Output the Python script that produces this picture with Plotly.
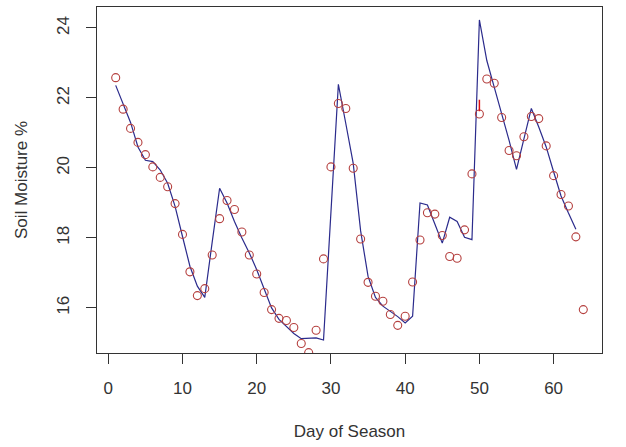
import plotly.graph_objects as go

days = list(range(1, 65))
moisture = [22.58, 21.68, 21.13, 20.73, 20.38, 20.03, 19.73, 19.46, 18.98, 18.10,
            17.03, 16.35, 16.55, 17.51, 18.55, 19.07, 18.81, 18.17, 17.51, 16.97,
            16.44, 15.95, 15.70, 15.64, 15.44, 14.98, 14.72, 15.36, 17.40, 20.03,
            21.84, 21.70, 19.99, 17.97, 16.73, 16.33, 16.19, 15.81, 15.50, 15.76,
            16.74, 17.94, 18.72, 18.68, 18.07, 17.47, 17.42, 18.23, 19.83, 21.54,
            22.54, 22.42, 21.44, 20.50, 20.35, 20.89, 21.47, 21.41, 20.63, 19.78,
            19.24, 18.91, 18.03, 15.95]

fit_days = list(range(1, 64))
fitted = [22.36, 21.84, 21.30, 20.60, 20.22, 20.18, 19.94, 19.56, 18.90, 18.04,
          17.19, 16.62, 16.30, 17.88, 19.42, 19.00, 18.47, 18.00, 17.57, 17.09,
          16.55, 16.00, 15.67, 15.48, 15.27, 15.12, 15.12, 15.14, 15.08, 18.90,
          22.39, 21.27, 20.13, 18.20, 16.90, 16.30, 16.05, 15.90, 15.75, 15.57,
          15.76, 19.00, 18.94, 18.40, 17.85, 18.59, 18.47, 18.02, 17.95, 24.23,
          23.07, 22.31, 21.56, 20.79, 19.96, 20.84, 21.70, 21.17, 20.60, 19.89,
          19.20, 18.71, 18.25]

mark_x = [50, 50]
mark_y = [21.62, 21.95]

x_ticks = [0, 10, 20, 30, 40, 50, 60]
y_ticks = [16, 18, 20, 22, 24]

fig = go.Figure()
fig.add_trace(go.Scatter(x=fit_days, y=fitted, mode="lines",
                         line=dict(color="#2b2b8c", width=1.2), hoverinfo="skip"))
fig.add_trace(go.Scatter(x=days, y=moisture, mode="markers",
                         marker=dict(symbol="circle-open", size=8, color="#b5403f",
                                     line=dict(width=1.1, color="#b5403f"))))
fig.add_trace(go.Scatter(x=mark_x, y=mark_y, mode="lines",
                         line=dict(color="#e01010", width=1.5)))

font = dict(family="Liberation Sans, Arial, sans-serif", size=17, color="#333333")

fig.update_layout(
    width=626, height=447,
    margin=dict(l=97, r=24, t=7, b=94),
    paper_bgcolor="white", plot_bgcolor="white",
    showlegend=False,
    font=font,
)
fig.update_xaxes(
    range=[-1.52, 66.52], tickvals=x_ticks, ticks="outside", ticklen=10,
    tickcolor="#333333", tickwidth=1, showgrid=False, zeroline=False,
    showline=True, linecolor="#333333", linewidth=1.2, mirror=True,
    ticklabelstandoff=9,
    title=dict(text="Day of Season", font=font, standoff=28),
)
fig.update_yaxes(
    range=[14.71, 24.60], tickvals=y_ticks, ticks="outside", ticklen=10,
    tickcolor="#333333", tickwidth=1, showgrid=False, zeroline=False,
    showline=True, linecolor="#333333", linewidth=1.2, mirror=True,
    tickangle=-90, ticklabelstandoff=10,
    title=dict(text="Soil Moisture %", font=font, standoff=22),
)

fig.write_html("out.html")
